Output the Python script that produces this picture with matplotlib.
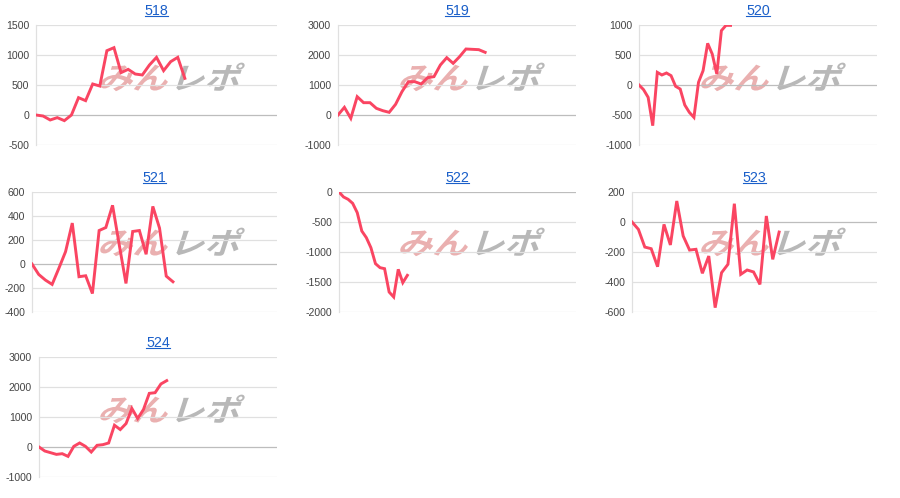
import matplotlib
matplotlib.use('Agg')
from matplotlib import pyplot as plt
from matplotlib.textpath import TextPath
from matplotlib.patches import PathPatch
from matplotlib.font_manager import FontProperties
from matplotlib.transforms import Affine2D
from matplotlib.lines import Line2D

# data
titles = ['518', '519', '520', '521', '522', '523', '524']

v518 = [0, -17, -83, -44, -94, 0, 289, 239, 517, 483, 1072, 1122, 706, 761,
        683, 667, 833, 961, 739, 889, 961, 611]
v519 = [0, 256, -111, 611, 411, 411, 222, 144, 89, 356, 778, 1111, 1111, 1033,
        1244, 1278, 1667, 1911, 1722, 1944, 2200, 2189, 2178, 2089]
v520 = [0, -78, -206, -678, 211, 167, 200, 156, -22, -67, -333, -456, -539,
        44, 239, 694, 517, 183, 906, 994, 994]
v521 = [0, -87, -134, -170, -36, 103, 341, -106, -98, -246, 279, 304, 489, 159,
        -162, 271, 279, 81, 480, 299, -101, -148]
v522 = [0, -83, -122, -189, -344, -650, -761, -928, -1194, -1261, -1278,
        -1667, -1750, -1289, -1511, -1389]
v523 = [0, -49, -167, -178, -298, -16, -153, 140, -93, -187, -182, -342, -227,
        -571, -338, -282, 122, -349, -320, -333, -416, 40, -249, -67]
v524 = [0, -134, -190, -246, -223, -313, 22, 134, 22, -168, 56, 78, 134, 726,
        581, 782, 1285, 950, 1251, 1788, 1810, 2101, 2212]
series = [v518, v519, v520, v521, v522, v523, v524]

# layout: left, right, top, bottom in pixels; y range and step; x extent
boxes = [(36, 277, 25, 145), (338, 576, 25, 145), (639, 877, 25, 145),
         (32, 277, 192, 312), (339, 576, 192, 312), (632, 877, 192, 312),
         (39, 277, 357, 477)]
yranges = [(-500, 1500, 500), (-1000, 3000, 1000), (-1000, 1000, 500),
           (-400, 600, 200), (-2000, 0, 500), (-600, 200, 200),
           (-1000, 3000, 1000)]
xmaxes = [34, 37.2, 52, 36.5, 52, 38.3, 41]
marks = [(167, 77), (467, 77), (768, 77), (167, 242), (467, 242), (768, 242),
         (167, 409)]

W, H = 900, 498
plt.rcParams['font.family'] = ['Liberation Sans', 'DejaVu Sans']
fig = plt.figure(figsize=(W / 100, H / 100), dpi=100)
fig.patch.set_facecolor('white')

px = Affine2D().scale(1 / 100) + fig.dpi_scale_trans
jp = FontProperties(family='Noto Sans CJK JP', weight='bold')


def watermark(cx, cy):
    # faint logo behind each chart, pixel coords from the top-left
    y = H - cy
    for txt, col, dx in [('みん', '#eab0b0', -70), ('レポ', '#b8b8b8', 2)]:
        tp = TextPath((0, 0), txt, size=35, prop=jp)
        t = (Affine2D().scale(1.0, 0.87).skew_deg(18, 0)
             .translate(cx + dx, y - 12) + px)
        fig.add_artist(PathPatch(tp, transform=t, facecolor=col,
                                 edgecolor='none', zorder=-1))


axes = []
for i in range(7):
    l, r, t, b = boxes[i]
    ax = fig.add_axes([l / W, (H - b) / H, (r - l) / W, (b - t) / H])
    ax.set_facecolor('none')
    lo, hi, st = yranges[i]
    ticks = list(range(lo, hi + 1, st))
    ax.set_ylim(lo, hi)
    ax.set_xlim(0, xmaxes[i])
    ax.set_yticks(ticks)
    ax.set_yticklabels([str(v) for v in ticks])
    ax.set_xticks([])
    for v in ticks:
        ax.axhline(v, color='#bdbdbd' if v == 0 else '#e0e0e0', lw=0.9,
                   zorder=1)
    for s in ['top', 'right', 'bottom']:
        ax.spines[s].set_visible(False)
    ax.spines['left'].set_color('#e0e0e0')
    ax.spines['left'].set_linewidth(0.9)
    ax.tick_params(axis='y', length=0, pad=5, labelsize=7.6,
                   labelcolor='#444444')
    ax.plot(range(len(series[i])), series[i], color='#fa4562', lw=2.1,
            zorder=3, solid_joinstyle='miter')
    ax.set_title(titles[i], fontsize=10.3, color='#1a5fc9', pad=7.5)
    watermark(*marks[i])
    axes.append(ax)

# underline the titles like links
fig.canvas.draw()
r = fig.canvas.get_renderer()
for ax in axes:
    bb = ax.title.get_window_extent(r)
    y = bb.y0 + 1.5
    fig.add_artist(Line2D([bb.x0 / W, bb.x1 / W], [y / H, y / H],
                          transform=fig.transFigure, color='#1a5fc9', lw=0.8))

fig.savefig('out.png', dpi=100)
